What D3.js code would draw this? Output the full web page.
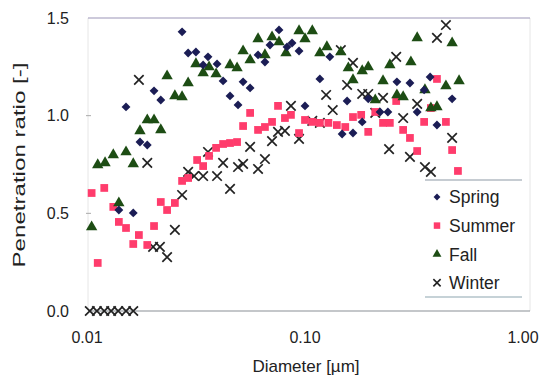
<!DOCTYPE html>
<html>
<head>
<meta charset="utf-8">
<script src="https://cdn.jsdelivr.net/npm/d3@7"></script>
<style>
  body { margin: 0; background: #fff; }
  svg text { font-family: "Liberation Sans", Arial, sans-serif; fill: #222; }
</style>
</head>
<body>
<div id="chart"></div>
<script>
// Messwerte [Durchmesser µm, Penetrationsverhältnis]
const spring = [
  [0.0151, 1.045], [0.0140, 0.517], [0.0163, 0.502], [0.0175, 0.865], [0.0189, 0.850],
  [0.0203, 1.127], [0.0218, 1.080], [0.0273, 1.429], [0.0291, 1.321], [0.0316, 1.326],
  [0.0341, 1.260], [0.0359, 1.301], [0.0395, 1.265], [0.0421, 1.178], [0.0453, 1.101],
  [0.0493, 1.055], [0.0520, 1.173], [0.0560, 1.142], [0.0609, 1.311], [0.0655, 1.275],
  [0.0691, 1.362], [0.0760, 1.439], [0.0827, 1.352], [0.0872, 1.372], [0.0939, 1.331],
  [0.100, 1.050], [0.117, 1.188], [0.130, 1.301], [0.148, 0.906], [0.156, 1.075],
  [0.166, 0.911], [0.183, 0.968], [0.195, 1.086], [0.221, 1.019], [0.240, 1.019],
  [0.264, 1.173], [0.303, 1.167], [0.327, 1.019], [0.352, 1.132], [0.375, 1.198],
  [0.403, 0.952], [0.473, 1.086]
];
const summer = [
  [0.0105, 0.604], [0.0112, 0.246], [0.0120, 0.630], [0.0132, 0.533], [0.0140, 0.456],
  [0.0151, 0.425], [0.0163, 0.343], [0.0173, 0.389], [0.0189, 0.338], [0.0203, 0.435],
  [0.0218, 0.558], [0.0233, 0.517], [0.0253, 0.553], [0.0273, 0.666], [0.0291, 0.681],
  [0.0320, 0.773], [0.0341, 0.742], [0.0363, 0.794], [0.0391, 0.835], [0.0421, 0.855],
  [0.0453, 0.860], [0.0488, 0.865], [0.0520, 0.947], [0.0560, 1.014], [0.0609, 0.927],
  [0.0655, 0.942], [0.0706, 0.968], [0.0752, 1.050], [0.0809, 0.988], [0.0862, 1.004],
  [0.0939, 0.911], [0.100, 0.978], [0.108, 0.968], [0.117, 0.963], [0.128, 0.963],
  [0.140, 0.952], [0.153, 0.942], [0.166, 0.993], [0.181, 1.004], [0.195, 0.917],
  [0.210, 1.019], [0.228, 0.963], [0.245, 0.963], [0.262, 1.075], [0.282, 0.927],
  [0.303, 0.886], [0.327, 0.819], [0.352, 0.968], [0.378, 1.039], [0.403, 1.188],
  [0.443, 0.968], [0.473, 0.824], [0.503, 0.717]
];
const fall = [
  [0.0105, 0.430], [0.0112, 0.748], [0.0121, 0.758], [0.0132, 0.799], [0.0140, 0.553],
  [0.0151, 0.814], [0.0163, 0.753], [0.0175, 0.922], [0.0189, 0.978], [0.0203, 0.978],
  [0.0218, 0.927], [0.0233, 1.203], [0.0253, 1.101], [0.0273, 1.096], [0.0291, 1.167],
  [0.0316, 1.265], [0.0341, 1.219], [0.0363, 1.249], [0.0391, 1.213], [0.0453, 1.260],
  [0.0488, 1.244], [0.0520, 1.331], [0.0560, 1.285], [0.0609, 1.393], [0.0655, 1.311],
  [0.0706, 1.403], [0.0760, 1.377], [0.0818, 1.321], [0.0939, 1.434], [0.100, 1.393],
  [0.108, 1.434], [0.117, 1.321], [0.126, 1.352], [0.146, 1.326], [0.158, 1.244],
  [0.166, 1.183], [0.183, 1.229], [0.195, 1.249], [0.210, 1.080], [0.228, 1.178],
  [0.245, 1.260], [0.264, 1.106], [0.282, 1.096], [0.306, 1.275], [0.327, 1.398],
  [0.355, 1.132], [0.378, 1.039], [0.403, 1.045], [0.443, 1.152], [0.473, 1.372],
  [0.509, 1.178]
];
const winter = [
  [0.0103, 0], [0.0111, 0], [0.0120, 0], [0.0129, 0], [0.0139, 0], [0.0151, 0], [0.0163, 0],
  [0.0173, 1.183], [0.0189, 0.758], [0.0201, 0.328], [0.0216, 0.328], [0.0233, 0.276],
  [0.0253, 0.415], [0.0273, 0.594], [0.0291, 0.712], [0.0310, 0.691], [0.0341, 0.691],
  [0.0359, 0.814], [0.0395, 0.691], [0.0421, 0.758], [0.0453, 0.625], [0.0493, 0.737],
  [0.0520, 0.753], [0.0560, 0.840], [0.0609, 0.727], [0.0655, 0.778], [0.0706, 0.870],
  [0.0752, 0.917], [0.0809, 0.922], [0.0862, 1.050], [0.0939, 0.881], [0.108, 0.973],
  [0.117, 0.963], [0.125, 1.106], [0.134, 1.029], [0.146, 1.336], [0.156, 1.157],
  [0.166, 1.270], [0.183, 1.111], [0.195, 1.111], [0.210, 1.014], [0.228, 1.091],
  [0.243, 0.829], [0.262, 1.301], [0.282, 0.988], [0.303, 0.789], [0.327, 1.060],
  [0.355, 0.737], [0.378, 0.712], [0.403, 1.398], [0.443, 1.464], [0.473, 0.886]
];
const xTicks = [0.01, 0.1, 1];
const yTicks = [0, 0.5, 1.0, 1.5];

const width = 553, height = 382;

const svg = d3.select("#chart").append("svg")
  .attr("width", width)
  .attr("height", height);

const x = d3.scaleLog().domain([0.01, 1]).range([87, 523]);
const y = d3.scaleLinear().domain([0, 1.5]).range([311, 18]);

// Rahmen / Linien
svg.append("line").attr("x1", 88).attr("x2", 88).attr("y1", 18).attr("y2", 311)
  .attr("stroke", "#e6e6e6");
svg.append("line").attr("x1", 530).attr("x2", 530).attr("y1", 18).attr("y2", 311)
  .attr("stroke", "#e6e6e6");
svg.append("line").attr("x1", 88).attr("x2", 530).attr("y1", y(1.5)).attr("y2", y(1.5))
  .attr("stroke", "#9b95b8").attr("stroke-width", 1.2);
svg.append("line").attr("x1", 88).attr("x2", 530).attr("y1", y(0)).attr("y2", y(0))
  .attr("stroke", "#8a8f95").attr("stroke-width", 1.2);

// Y-Ticks
svg.selectAll(".ytick").data(yTicks.slice(1, 3)).join("line")
  .attr("x1", 86).attr("x2", 91)
  .attr("y1", d => y(d)).attr("y2", d => y(d))
  .attr("stroke", "#aaa");

svg.selectAll(".ylab").data(yTicks).join("text")
  .attr("x", 69).attr("y", d => y(d)).attr("dy", "0.36em")
  .attr("text-anchor", "end").style("font-size", "16px")
  .text(d => d.toFixed(1));

svg.selectAll(".xlab").data(xTicks).join("text")
  .attr("x", d => x(d)).attr("y", 343)
  .attr("text-anchor", "middle").style("font-size", "16px")
  .text(d => d.toFixed(2));

svg.append("text")
  .attr("x", 306).attr("y", 372)
  .attr("text-anchor", "middle").style("font-size", "17px")
  .text("Diameter [µm]");

svg.append("text")
  .attr("transform", `translate(25,165) rotate(-90)`)
  .attr("text-anchor", "middle").style("font-size", "17px")
  .attr("textLength", 205).attr("lengthAdjust", "spacingAndGlyphs")
  .text("Penetration ratio [-]");

// Marker
const symDiamond = d3.symbol().type(d3.symbolDiamond2).size(50);
const symSquare = d3.symbol().type(d3.symbolSquare).size(60);
const symTriangle = d3.symbol().type(d3.symbolTriangle).size(56);
const symX = d3.symbol().type(d3.symbolX).size(60);

const series = [
  { name: "Spring", data: spring, sym: symDiamond, fill: "#1b1d55", stroke: "none" },
  { name: "Summer", data: summer, sym: symSquare, fill: "#ff3c6c", stroke: "none" },
  { name: "Fall", data: fall, sym: symTriangle, fill: "#1d4d14", stroke: "none" },
  { name: "Winter", data: winter, sym: symX, fill: "none", stroke: "#222" }
];

// Zeichenreihenfolge: Winter zuerst, Spring oben
[series[3], series[1], series[2], series[0]].forEach(s => {
  svg.append("g").selectAll("path")
    .data(s.data)
    .join("path")
    .attr("transform", d => `translate(${x(d[0])},${y(d[1])})`)
    .attr("d", s.sym())
    .attr("fill", s.fill)
    .attr("stroke", s.stroke)
    .attr("stroke-width", 1.7);
});

// Legende
const legend = svg.append("g");
legend.append("rect").attr("x", 425).attr("y", 180).attr("width", 97).attr("height", 117)
  .attr("fill", "#fff");
legend.append("line").attr("x1", 425).attr("x2", 522).attr("y1", 180).attr("y2", 180)
  .attr("stroke", "#8e9aa6").attr("stroke-width", 1.2);
legend.append("line").attr("x1", 425).attr("x2", 522).attr("y1", 297).attr("y2", 297)
  .attr("stroke", "#8ea6b0").attr("stroke-width", 1.2);

const legendSym = [
  d3.symbol().type(d3.symbolDiamond2).size(30),
  d3.symbol().type(d3.symbolSquare).size(42),
  d3.symbol().type(d3.symbolTriangle).size(34),
  d3.symbol().type(d3.symbolX).size(36)
];

series.forEach((s, i) => {
  const ly = 197 + i * 28.6;
  legend.append("path")
    .attr("transform", `translate(437,${ly})`)
    .attr("d", legendSym[i]())
    .attr("fill", s.fill)
    .attr("stroke", s.stroke)
    .attr("stroke-width", 1.6);
  legend.append("text")
    .attr("x", 449).attr("y", ly).attr("dy", "0.36em")
    .style("font-size", "17.5px")
    .text(s.name);
});
</script>
</body>
</html>
